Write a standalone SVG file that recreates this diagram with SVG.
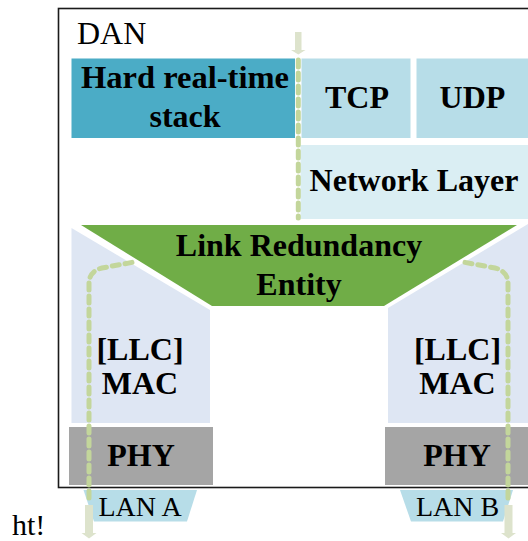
<svg xmlns="http://www.w3.org/2000/svg" width="528" height="541" viewBox="0 0 528 541">
<style>
.t{font-family:"Liberation Serif","Times New Roman",serif;fill:#000;text-anchor:middle}
.s{font-family:"Liberation Serif","Times New Roman",serif;fill:#000}
.b{font-weight:bold;font-size:32px}
.r{font-size:28px}
.dash{fill:none;stroke:#C3D69B;stroke-width:5;stroke-dasharray:7 6;stroke-linecap:round;stroke-linejoin:round}
.arr{fill:#DDE3CC}
</style>
<rect width="528" height="541" fill="#fff"/>
<g id="dan">
<rect x="58.5" y="8.5" width="480" height="479" fill="#fff" stroke="#1a1a1a" stroke-width="1.6"/>
<text class="s" x="77" y="44" font-size="32">DAN</text>
</g>
<g id="hard-rt">
<rect x="71.5" y="58.5" width="223.5" height="79.5" fill="#4BACC6"/>
<text class="t b" x="185" y="88" textLength="208" lengthAdjust="spacingAndGlyphs">Hard real-time</text>
<text class="t b" x="185" y="127">stack</text>
</g>
<g id="tcp">
<rect x="301.5" y="58.5" width="109" height="79.5" fill="#B7DDE8"/>
<text class="t b" x="357" y="108" font-size="31">TCP</text>
</g>
<g id="udp">
<rect x="416.5" y="58.5" width="112" height="79.5" fill="#B7DDE8"/>
<text class="t b" x="472.5" y="108">UDP</text>
</g>
<g id="network">
<rect x="300.5" y="145" width="228" height="74" fill="#DAEEF3"/>
<text class="t b" x="414" y="191">Network Layer</text>
</g>
<g id="mac-a">
<polygon points="71.5,228 210,310 210,423 71.5,423" fill="#DEE6F3"/>
<text class="t b" x="140" y="360" font-size="31">[LLC]</text>
<text class="t b" x="140" y="394">MAC</text>
</g>
<g id="mac-b">
<polygon points="528,224 388,308 388,423 528,423" fill="#DEE6F3"/>
<text class="t b" x="457.5" y="360" font-size="31">[LLC]</text>
<text class="t b" x="457.5" y="394">MAC</text>
</g>
<g id="lre">
<polygon points="81,225 517,225 384,306 212,306" fill="#70AD47"/>
<text class="t b" x="299" y="256">Link Redundancy</text>
<text class="t b" x="299" y="295">Entity</text>
</g>
<g id="phy-a">
<rect x="69" y="427" width="144" height="58" fill="#A5A5A5"/>
<text class="t b" x="141" y="466">PHY</text>
</g>
<g id="phy-b">
<rect x="385" y="427" width="143" height="58" fill="#A5A5A5"/>
<text class="t b" x="457" y="466">PHY</text>
</g>
<g id="lan-a">
<polygon points="83.5,490 197,490 187,521.5 94,521.5" fill="#B7DDE8"/>
<text class="t r" x="140" y="516">LAN A</text>
</g>
<g id="lan-b">
<polygon points="400,490 513,490 503,521.5 411,521.5" fill="#B7DDE8"/>
<text class="t r" x="457.5" y="516">LAN B</text>
</g>
<g id="connectors">
<path class="arr" d="M295,32 H301.5 V50 H305.5 L298.3,54.5 L291,50 H295 Z"/>
<path class="dash" d="M298.3,60 V218"/>
<path class="dash" d="M89,498 V282 Q90,271 102,268 L134,262"/>
<path class="dash" d="M508,498 V282 Q507,271 495,268 L463,262"/>
<path class="arr" d="M85,505 H93 V533 H96.5 L89,538.5 L81.5,533 H85 Z"/>
<path class="arr" d="M504.5,505 H512.5 V533 H516 L508.5,538.5 L501,533 H504.5 Z"/>
</g>
<text class="s" x="12" y="535" font-size="30">ht!</text>
</svg>
